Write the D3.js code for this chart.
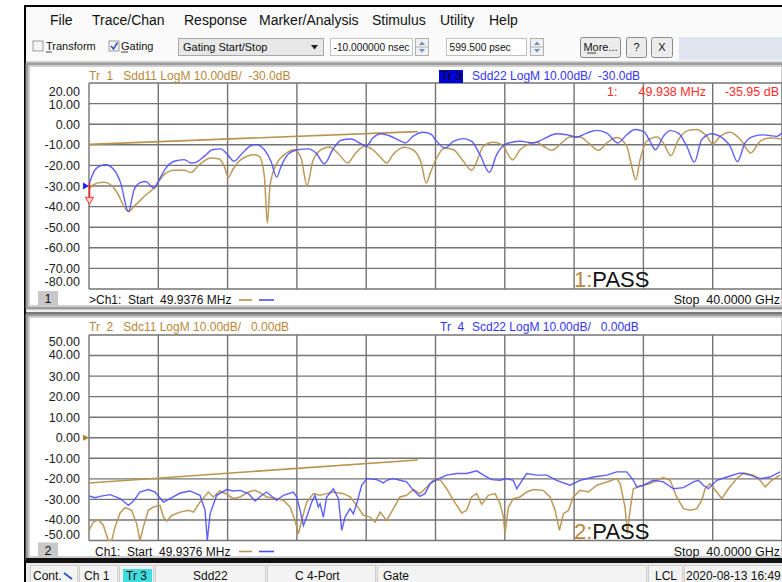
<!DOCTYPE html>
<html><head><meta charset="utf-8">
<script src="https://cdn.jsdelivr.net/npm/d3@7"></script>
<style>body{margin:0;background:#fff}svg{display:block}text{font-family:"Liberation Sans",Arial,sans-serif}</style>
</head><body><svg id="c" width="782" height="582"></svg>
<script>
// ---------------- DATA ----------------
const freqStartGHz = 0.0499376, freqStopGHz = 40;
const menuItems = ["File","Trace/Chan","Response","Marker/Analysis","Stimulus","Utility","Help"];
const ch1Ticks = [20,10,0,-10,-20,-30,-40,-50,-60,-70,-80];
const ch2Ticks = [50,40,30,20,10,0,-10,-20,-30,-40,-50];
// Tr1 Sdd11 (gold) [GHz, dB]
const sdd11 = [[0.05,-31.8],[0.15,-30.5],[0.53,-28.6],[0.92,-28.2],[1.30,-29.4],[1.69,-33.4],[2.07,-39.9],[2.32,-42.4],[2.65,-39.9],[3.23,-35.1],[3.80,-31.0],[4.38,-24.5],[4.96,-22.4],[5.54,-22.4],[5.92,-23.4],[6.40,-19.7],[7.08,-16.4],[7.56,-16.9],[7.85,-20.5],[8.08,-25.7],[8.33,-22.1],[8.81,-17.2],[9.58,-14.8],[9.87,-15.6],[10.16,-25.3],[10.33,-48.0],[10.48,-30.2],[10.83,-19.7],[11.31,-14.8],[11.89,-12.4],[12.27,-16.4],[12.62,-29.7],[12.95,-18.0],[13.43,-12.4],[13.91,-11.1],[14.39,-14.0],[14.97,-18.8],[15.35,-14.8],[15.93,-10.7],[16.41,-12.4],[16.89,-16.4],[17.22,-18.8],[17.57,-14.8],[18.24,-11.2],[18.72,-12.4],[19.20,-18.8],[19.49,-28.6],[19.71,-24.0],[20.09,-16.4],[20.57,-11.6],[21.06,-12.4],[21.63,-18.0],[22.11,-22.4],[22.79,-10.7],[23.36,-8.8],[23.84,-9.9],[24.48,-17.2],[24.90,-12.4],[25.48,-9.4],[25.86,-8.8],[26.24,-10.7],[26.73,-12.7],[27.30,-9.1],[27.78,-6.2],[28.36,-6.2],[28.84,-9.1],[29.42,-12.7],[29.90,-9.1],[30.47,-6.4],[31.05,-10.7],[31.34,-20.5],[31.57,-27.0],[31.82,-17.2],[32.20,-8.3],[32.78,-6.2],[33.16,-9.1],[33.59,-15.3],[34.03,-7.5],[34.61,-3.0],[35.09,-2.6],[35.66,-5.9],[36.01,-9.6],[36.43,-5.9],[37.01,-3.9],[37.58,-7.2],[38.20,-14.0],[38.74,-8.3],[39.31,-6.7],[39.99,-7.2]];
// Tr3 Sdd22 (blue)
const sdd22 = [[0.05,-29.4],[0.34,-22.9],[0.63,-20.5],[1.01,-19.7],[1.49,-22.1],[1.88,-28.6],[2.32,-42.4],[2.65,-31.8],[3.03,-28.2],[3.32,-27.8],[3.61,-29.9],[3.80,-31.0],[4.09,-27.0],[4.48,-21.3],[4.96,-18.0],[5.54,-17.2],[5.92,-18.8],[6.21,-18.5],[6.69,-15.6],[7.17,-12.4],[7.65,-12.0],[8.04,-14.8],[8.42,-18.0],[8.81,-14.8],[9.39,-10.4],[9.67,-9.9],[10.16,-12.4],[10.54,-18.0],[10.87,-25.7],[11.12,-20.5],[11.50,-14.8],[12.08,-12.4],[12.66,-12.0],[13.14,-14.0],[13.62,-19.2],[14.10,-12.4],[14.58,-7.8],[15.16,-7.2],[15.74,-9.6],[16.03,-10.7],[16.41,-6.7],[16.89,-4.6],[17.37,-5.6],[18.05,-8.3],[18.28,-9.1],[18.72,-5.9],[19.30,-3.9],[19.78,-4.9],[20.09,-8.3],[20.57,-11.6],[21.06,-8.3],[21.63,-7.0],[22.11,-8.3],[22.59,-14.8],[23.13,-23.4],[23.55,-14.8],[24.13,-9.4],[24.90,-8.3],[25.67,-9.1],[26.24,-7.2],[27.01,-4.6],[27.59,-5.1],[28.17,-6.2],[28.74,-4.3],[29.32,-3.0],[29.90,-4.3],[30.53,-9.1],[31.05,-5.1],[31.53,-2.6],[32.01,-3.5],[32.40,-8.3],[32.70,-12.4],[33.16,-5.9],[33.55,-3.1],[34.03,-4.3],[34.51,-10.7],[34.95,-18.4],[35.37,-7.5],[35.95,-4.6],[36.43,-5.9],[37.01,-10.7],[37.43,-18.2],[37.87,-9.1],[38.35,-5.9],[38.93,-5.2],[39.70,-5.9],[39.99,-4.3]];
// Tr2 Sdc11 (gold)
const sdc11 = [[0.05,-45.1],[0.30,-41.0],[0.59,-39.9],[0.88,-42.7],[1.16,-50],[1.36,-50],[1.55,-43.5],[1.84,-36.6],[2.13,-34.0],[2.51,-35.3],[2.80,-41.9],[2.99,-50],[3.18,-43.5],[3.47,-35.3],[3.76,-33.7],[4.14,-32.9],[4.34,-38.6],[4.53,-40.6],[4.82,-37.8],[5.30,-36.2],[5.78,-35.3],[6.07,-36.2],[6.45,-31.3],[6.93,-26.4],[7.22,-28.8],[7.60,-25.9],[7.99,-27.5],[8.37,-29.6],[8.76,-28.8],[9.24,-26.4],[9.62,-25.6],[10.01,-27.2],[10.29,-28.8],[10.87,-29.6],[11.26,-30.5],[11.64,-33.7],[11.93,-40.2],[12.12,-46.7],[12.31,-40.2],[12.60,-31.3],[12.99,-27.2],[13.37,-28.0],[13.75,-27.2],[14.14,-26.4],[14.72,-27.2],[15.10,-28.8],[15.48,-32.9],[15.87,-37.8],[16.25,-38.6],[16.54,-41.0],[16.83,-36.2],[17.21,-40.2],[17.60,-34.5],[17.98,-28.8],[18.36,-28.0],[18.75,-25.2],[19.13,-27.2],[19.42,-24.8],[19.90,-20.7],[20.29,-20.4],[20.67,-24.8],[21.06,-30.5],[21.54,-36.6],[21.82,-35.3],[22.11,-28.8],[22.40,-27.2],[22.69,-32.4],[23.07,-28.0],[23.46,-27.2],[23.75,-32.1],[23.94,-38.6],[24.03,-46.7],[24.23,-33.7],[24.51,-29.6],[24.90,-28.8],[25.28,-26.4],[25.67,-25.2],[26.24,-25.6],[26.63,-28.8],[26.92,-35.3],[27.17,-45.1],[27.40,-37.0],[27.69,-35.3],[27.97,-28.8],[28.36,-25.6],[28.84,-26.4],[29.32,-23.1],[29.90,-21.5],[30.47,-19.9],[30.67,-22.3],[30.95,-33.7],[31.09,-46.7],[31.24,-35.3],[31.43,-24.8],[31.82,-23.6],[32.40,-22.3],[32.78,-20.7],[33.16,-19.4],[33.55,-20.7],[33.93,-28.8],[34.32,-34.5],[34.70,-35.3],[35.09,-34.5],[35.37,-30.5],[35.57,-24.8],[35.85,-22.3],[36.24,-26.4],[36.53,-29.6],[36.91,-24.8],[37.39,-19.9],[37.78,-17.1],[38.35,-18.2],[38.74,-20.7],[39.03,-23.9],[39.41,-20.7],[39.89,-18.2]];
// Tr4 Scd22 (blue)
const scd22 = [[0.05,-28.3],[0.40,-29.2],[0.68,-28.5],[1.26,-27.7],[1.84,-29.6],[2.32,-32.9],[2.61,-30.8],[2.99,-26.4],[3.47,-25.2],[3.86,-26.4],[4.34,-31.3],[4.72,-29.6],[5.30,-26.9],[5.87,-25.9],[6.45,-28.0],[6.74,-35.3],[6.87,-50],[7.03,-37.0],[7.41,-28.0],[7.99,-25.2],[8.37,-25.9],[8.76,-25.6],[9.24,-27.2],[9.62,-30.8],[10.01,-28.0],[10.29,-26.4],[10.87,-30.5],[11.26,-28.0],[11.83,-26.4],[12.02,-28.8],[12.22,-35.3],[12.41,-42.7],[12.60,-38.6],[12.89,-31.3],[13.08,-28.0],[13.27,-33.7],[13.37,-32.1],[13.56,-38.6],[13.75,-28.8],[14.14,-24.8],[14.43,-29.6],[14.62,-45.1],[14.81,-38.6],[15.10,-34.5],[15.29,-37.0],[15.48,-32.1],[15.77,-23.1],[16.06,-19.9],[16.64,-20.4],[17.02,-22.0],[17.21,-20.7],[17.60,-19.9],[17.98,-20.7],[18.36,-21.5],[18.75,-25.6],[19.13,-28.5],[19.42,-27.2],[19.71,-22.3],[20.09,-20.4],[20.67,-18.2],[21.25,-17.4],[21.82,-17.4],[22.40,-16.1],[22.79,-18.2],[23.27,-20.4],[23.75,-20.7],[24.13,-19.9],[24.51,-20.7],[24.71,-24.8],[24.90,-22.3],[25.28,-17.4],[25.86,-18.2],[26.44,-18.2],[27.01,-20.7],[27.78,-23.1],[28.36,-20.7],[29.13,-19.1],[29.90,-18.2],[30.47,-16.6],[31.05,-16.6],[31.43,-20.7],[31.63,-23.9],[32.01,-23.1],[32.59,-20.7],[33.16,-21.5],[33.74,-24.8],[34.32,-24.3],[34.89,-21.5],[35.18,-20.7],[35.47,-23.1],[35.76,-24.8],[36.24,-20.7],[36.82,-19.1],[37.59,-17.1],[38.16,-18.2],[38.74,-19.9],[39.31,-19.1],[39.89,-16.6]];
const limitCh1 = [[0.0499376,-9.8],[19.0,-3.6]];
const limitCh2 = [[0.0499376,-22.0],[19.0,-10.8]];
const statusCells = ["Cont.","Ch 1","Tr 3","Sdd22","C  4-Port","Gate","LCL","2020-08-13 16:49"];

// ---------------- DRAW ----------------
const W = 782, H = 582;
const GOLD = "#b8944f", BLUE = "#4c4cff", GOLDT = "#b8883a", BLUET = "#3535f5";
const svg = d3.select("#c");
svg.append("rect").attr("width", W).attr("height", H).attr("fill", "#fff");
// application window
svg.append("rect").attr("x", 25).attr("y", 6).attr("width", W - 25).attr("height", H - 6).attr("fill", "#f0f0f0");
svg.append("line").attr("x1", 25).attr("x2", 25).attr("y1", 5).attr("y2", H).attr("stroke", "#000").attr("stroke-width", 2);
svg.append("line").attr("x1", 24).attr("x2", W).attr("y1", 6).attr("y2", 6).attr("stroke", "#000").attr("stroke-width", 2);
// menu bar + toolbar
svg.append("rect").attr("x", 26).attr("y", 7).attr("width", W - 26).attr("height", 55).attr("fill", "#fafafa");
const menuX = [50, 92, 184, 259, 372, 440, 489];
svg.selectAll("text.menu").data(menuItems).join("text").attr("class", "menu")
  .attr("x", (d, i) => menuX[i]).attr("y", 25).attr("font-size", 14).attr("fill", "#111").text(d => d);
svg.append("line").attr("x1", 26).attr("x2", W).attr("y1", 62).attr("y2", 62).attr("stroke", "#b0b0b0");

const tb = svg.append("g").attr("font-size", 11).attr("fill", "#111");
function checkbox(x, checked) {
  tb.append("rect").attr("x", x).attr("y", 41).attr("width", 10).attr("height", 10).attr("fill", "#f4f4f4").attr("stroke", "#9a9a9a");
  if (checked) tb.append("path").attr("d", `M${x+2},${46} L${x+4.5},${49} L${x+8.5},${42.5}`).attr("fill", "none").attr("stroke", "#2a4fb0").attr("stroke-width", 1.5);
}
checkbox(33, false);
tb.append("text").attr("x", 46).attr("y", 50).text("Transform");
tb.append("line").attr("x1", 46).attr("x2", 52).attr("y1", 52).attr("y2", 52).attr("stroke", "#111").attr("stroke-width", 0.8);
checkbox(109, true);
tb.append("text").attr("x", 121).attr("y", 50).text("Gating");
tb.append("line").attr("x1", 121).attr("x2", 128).attr("y1", 52).attr("y2", 52).attr("stroke", "#111").attr("stroke-width", 0.8);
// dropdown
tb.append("rect").attr("x", 178.5).attr("y", 38.5).attr("width", 145).attr("height", 17).attr("fill", "#e8e8e8").attr("stroke", "#a8a8a8");
tb.append("text").attr("x", 183).attr("y", 50.5).text("Gating Start/Stop");
tb.append("path").attr("d", "M311,45 L318,45 L314.5,49.5 Z").attr("fill", "#222");
// inputs
function input(x, w, txt, sx) {
  tb.append("rect").attr("x", x).attr("y", 38.5).attr("width", w).attr("height", 17).attr("fill", "#fff").attr("stroke", "#c0c0c0");
  tb.append("text").attr("x", x + 3).attr("y", 50.5).attr("font-size", 10.2).text(txt);
  tb.append("rect").attr("x", sx).attr("y", 38.5).attr("width", 13).attr("height", 17).attr("fill", "#f0f0f0").attr("stroke", "#b0b0b0");
  tb.append("line").attr("x1", sx).attr("x2", sx + 13).attr("y1", 47).attr("y2", 47).attr("stroke", "#b0b0b0");
  tb.append("path").attr("d", `M${sx+3.5},${45} L${sx+9.5},${45} L${sx+6.5},${41.5} Z`).attr("fill", "#7090c0");
  tb.append("path").attr("d", `M${sx+3.5},${49} L${sx+9.5},${49} L${sx+6.5},${52.5} Z`).attr("fill", "#7090c0");
}
input(330.5, 82, "-10.000000 nsec", 415.5);
input(446.5, 80, "599.500 psec", 530.5);
function button(x, w, txt) {
  tb.append("rect").attr("x", x).attr("y", 37.5).attr("width", w).attr("height", 20).attr("rx", 2).attr("fill", "#ececec").attr("stroke", "#8a8a8a");
  tb.append("text").attr("x", x + w / 2).attr("y", 51).attr("text-anchor", "middle").text(txt);
}
button(580.5, 40, "More...");
tb.append("line").attr("x1", 587).attr("x2", 596).attr("y1", 53).attr("y2", 53).attr("stroke", "#111").attr("stroke-width", 0.8);
button(626.5, 20, "?");
button(651.5, 21, "X");
svg.append("rect").attr("x", 679).attr("y", 37).attr("width", W - 679).attr("height", 23).attr("fill", "#dfe5ee");

// x scale (shared)
const x = d3.scaleLinear().domain([freqStartGHz, freqStopGHz]).range([89, 782]);
const vGrid = d3.range(11).map(i => freqStartGHz + i * (freqStopGHz - freqStartGHz) / 10);

function channel(cfg) {
  const g = svg.append("g");
  // frame
  g.append("rect").attr("x", 27).attr("y", cfg.top).attr("width", W - 26).attr("height", cfg.h).attr("fill", "#fff").attr("stroke", "#9c9c9c").attr("stroke-width", 3);
  g.append("rect").attr("x", 29.5).attr("y", cfg.top + 2.5).attr("width", W - 29).attr("height", cfg.h - 5).attr("fill", "none").attr("stroke", "#d0d0d0").attr("stroke-width", 1);
  const y = d3.scaleLinear().domain([cfg.ticks[cfg.ticks.length - 1], cfg.ticks[0]]).range([cfg.pb, cfg.pt]);
  // grid
  const grid = g.append("g").attr("stroke", "#747474").attr("stroke-width", 1.4);
  grid.selectAll("line.h").data(cfg.ticks).join("line").attr("x1", 89).attr("x2", W).attr("y1", d => y(d)).attr("y2", d => y(d));
  grid.selectAll("line.v").data(vGrid).join("line").attr("x1", d => x(d)).attr("x2", d => x(d)).attr("y1", cfg.pt).attr("y2", cfg.pb);
  // y labels
  const n = cfg.ticks.length;
  g.selectAll("text.yl").data(cfg.ticks).join("text").attr("class", "yl")
    .attr("x", 80).attr("text-anchor", "end").attr("font-size", 12.5).attr("fill", "#1a1a1a")
    .attr("y", (d, i) => y(d) + 4.5 + (i === 0 ? cfg.topOff : i === 1 ? cfg.secOff : i === n - 1 ? cfg.botOff : 0))
    .text(d => d.toFixed(2));
  // header
  g.append("text").attr("x", 89).attr("y", cfg.top + 16).attr("font-size", 12).attr("fill", GOLDT).attr("xml:space", "preserve").text(cfg.h1);
  if (cfg.activeBox) {
    g.append("rect").attr("x", 439).attr("y", cfg.top + 6).attr("width", 24).attr("height", 13).attr("fill", "#0000d8");
    g.append("text").attr("x", 441).attr("y", cfg.top + 16).attr("font-size", 12).attr("fill", "#000").text(cfg.h2a);
  } else {
    g.append("text").attr("x", 440).attr("y", cfg.top + 16).attr("font-size", 12).attr("fill", BLUET).attr("xml:space", "preserve").text(cfg.h2a);
  }
  g.append("text").attr("x", 472).attr("y", cfg.top + 16).attr("font-size", 12).attr("fill", BLUET).attr("xml:space", "preserve").text(cfg.h2b);
  // traces
  const clipId = "clip" + cfg.id;
  svg.append("clipPath").attr("id", clipId).append("rect").attr("x", 89).attr("y", cfg.pt - 1).attr("width", W - 89).attr("height", cfg.pb - cfg.pt + 2);
  const tg = g.append("g").attr("clip-path", `url(#${clipId})`).attr("fill", "none");
  const line = d3.line().x(d => x(d[0])).y(d => y(d[1])).curve(cfg.curve);
  tg.append("path").attr("d", d3.line().x(d => x(d[0])).y(d => y(d[1]))(cfg.limit)).attr("stroke", GOLD).attr("stroke-width", 1.6);
  tg.append("path").attr("d", line(cfg.gold)).attr("stroke", GOLD).attr("stroke-width", 1.5).attr("stroke-opacity", 0.95);
  tg.append("path").attr("d", line(cfg.blue)).attr("stroke", BLUE).attr("stroke-width", 1.4).attr("stroke-opacity", 0.9);
  // PASS
  const pt = g.append("text").attr("x", 574).attr("y", cfg.pb - 2).attr("font-size", 22);
  pt.append("tspan").attr("fill", GOLDT).text(cfg.id + ":");
  pt.append("tspan").attr("fill", "#111").text("PASS");
  // bottom row
  const by = cfg.pb + 15;
  g.append("rect").attr("x", 38).attr("y", cfg.pb + 2).attr("width", 20).attr("height", 15).attr("fill", "#c8c8c8");
  g.append("text").attr("x", 48).attr("y", by - 1).attr("text-anchor", "middle").attr("font-size", 12.5).attr("fill", "#111").text(cfg.id);
  g.append("text").attr("x", cfg.chX).attr("y", by).attr("font-size", 12).attr("fill", "#111").attr("xml:space", "preserve").text(cfg.chTxt);
  g.append("line").attr("x1", 239).attr("x2", 252).attr("y1", by - 4).attr("y2", by - 4).attr("stroke", GOLD).attr("stroke-width", 1.6);
  g.append("line").attr("x1", 259).attr("x2", 274).attr("y1", by - 4).attr("y2", by - 4).attr("stroke", BLUE).attr("stroke-width", 1.6);
  g.append("text").attr("x", 780).attr("y", by).attr("text-anchor", "end").attr("font-size", 12.5).attr("fill", "#111").attr("xml:space", "preserve").text("Stop  40.0000 GHz");
  return {g, y};
}

const c1 = channel({id: 1, top: 64, h: 244, pt: 83, pb: 289, ticks: ch1Ticks, topOff: 8, secOff: 1, botOff: -8,
  h1: "Tr  1   Sdd11 LogM 10.00dB/  -30.0dB", activeBox: true, h2a: "Tr 3", h2b: "Sdd22 LogM 10.00dB/  -30.0dB",
  gold: sdd11, blue: sdd22, limit: limitCh1, curve: d3.curveMonotoneX, chX: 89, chTxt: ">Ch1:  Start  49.9376 MHz"});
const c2 = channel({id: 2, top: 315, h: 244, pt: 335, pb: 540.5, ticks: ch2Ticks, topOff: 6, secOff: -1, botOff: -6,
  h1: "Tr  2   Sdc11 LogM 10.00dB/   0.00dB", activeBox: false, h2a: "Tr  4", h2b: "Scd22 LogM 10.00dB/   0.00dB",
  gold: sdc11, blue: scd22, limit: limitCh2, curve: d3.curveLinear, chX: 95, chTxt: "Ch1:  Start  49.9376 MHz"});

// marker readout (ch1)
const mk = svg.append("g").attr("font-size", 12.5).attr("fill", "#ff2a2a");
mk.append("text").attr("x", 607).attr("y", 96).text("1:");
mk.append("text").attr("x", 706).attr("y", 96).attr("text-anchor", "end").text("49.938 MHz");
mk.append("text").attr("x", 779).attr("y", 96).attr("text-anchor", "end").text("-35.95 dB");
// reference / marker symbols
const y1 = c1.y, y2 = c2.y;
svg.append("path").attr("d", `M83,${y1(-30) - 3.5} L89,${y1(-30)} L83,${y1(-30) + 3.5} Z`).attr("fill", "#2222ff");
svg.append("line").attr("x1", 89.5).attr("x2", 89.5).attr("y1", y1(-30) - 3).attr("y2", y1(-35.95)).attr("stroke", "#ff2020").attr("stroke-width", 1.5);
svg.append("path").attr("d", `M85.5,${y1(-35.95) - 1} L93.5,${y1(-35.95) - 1} L89.5,${y1(-35.95) + 6} Z`).attr("fill", "#ffd0d0").attr("stroke", "#ff3030");
svg.append("path").attr("d", `M83,${y2(0) - 3} L89,${y2(0)} L83,${y2(0) + 3} Z`).attr("fill", "#b07a20");

// bottom border of channel 2
svg.append("rect").attr("x", 26).attr("y", 558).attr("width", W - 26).attr("height", 5).attr("fill", "#111");
svg.append("line").attr("x1", 26).attr("x2", W).attr("y1", 313).attr("y2", 313).attr("stroke", "#555").attr("stroke-width", 1.5);

// status bar
svg.append("rect").attr("x", 26).attr("y", 563).attr("width", W - 26).attr("height", 19).attr("fill", "#e9e9e9");
const cellX = [[30, 77], [79, 117], [119, 153], [155, 265], [267, 375], [377, 646], [648, 682], [684, 790]];
const sb = svg.append("g").attr("font-size", 12).attr("fill", "#111");
cellX.forEach((c, i) => {
  sb.append("rect").attr("x", c[0] + 0.5).attr("y", 565.5).attr("width", c[1] - c[0]).attr("height", 20).attr("fill", "#f3f3f3").attr("stroke", "#cfcfcf");
});
sb.append("rect").attr("x", 123).attr("y", 569).attr("width", 29).attr("height", 14).attr("fill", "#3fdede");
const txtX = [33, 84, 126, 193, 295, 383, 655, 686];
sb.selectAll("text").data(statusCells).join("text").attr("x", (d, i) => txtX[i]).attr("y", 580).text(d => d);
sb.append("line").attr("x1", 64).attr("x2", 72).attr("y1", 573).attr("y2", 579).attr("stroke", "#2050c0").attr("stroke-width", 1.6);
</script></body></html>
